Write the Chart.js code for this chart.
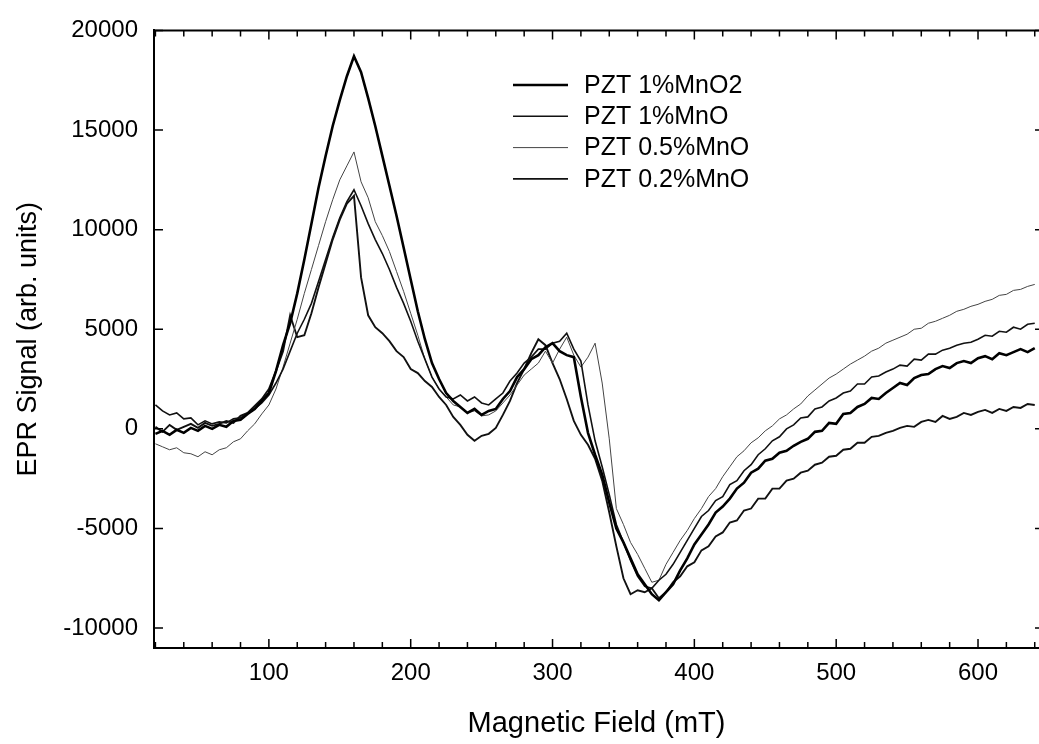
<!DOCTYPE html>
<html>
<head>
<meta charset="utf-8">
<script src="https://cdn.jsdelivr.net/npm/chart.js@4"></script>
<style>
  html, body { margin: 0; padding: 0; background: #fff; }
  canvas { display: block; }
</style>
</head>
<body>
<canvas id="epr-chart" width="1039" height="744"></canvas>
<script>
// magnetic field (mT), shared by all four spectra
const field = [
  20, 25, 30, 35, 40, 45, 50, 55, 60, 65,
  70, 75, 80, 85, 90, 95, 100, 105, 110, 115,
  120, 125, 130, 135, 140, 145, 150, 155, 160, 165,
  170, 175, 180, 185, 190, 195, 200, 205, 210, 215,
  220, 225, 230, 235, 240, 245, 250, 255, 260, 265,
  270, 275, 280, 285, 290, 295, 300, 305, 310, 315,
  320, 325, 330, 335, 340, 345, 350, 355, 360, 365,
  370, 375, 380, 385, 390, 395, 400, 405, 410, 415,
  420, 425, 430, 435, 440, 445, 450, 455, 460, 465,
  470, 475, 480, 485, 490, 495, 500, 505, 510, 515,
  520, 525, 530, 535, 540, 545, 550, 555, 560, 565,
  570, 575, 580, 585, 590, 595, 600, 605, 610, 615,
  620, 625, 630, 635, 640
];

const pzt1MnO2 = [
  -250, -100, -300, -50, -200, 50, -100, 150, 0, 200,
  100, 400, 450, 750, 1000, 1400, 1800, 2900, 4200, 5300,
  6800, 8500, 10300, 12100, 13700, 15200, 16500, 17700, 18700, 17900,
  16600, 15200, 13700, 12200, 10700, 9100, 7500, 5900, 4500, 3300,
  2500, 1800, 1400, 1100, 800, 1000, 700, 900, 1000, 1500,
  1900, 2600, 3000, 3500, 3700, 4100, 4300, 3900, 3700, 3600,
  1600, -200, -1300, -2300, -3700, -5000, -5700, -6500, -7300, -7800,
  -8300, -8600, -8200, -7800, -7100, -6500, -5800, -5300, -4800, -4200,
  -3900, -3500, -3000, -2700, -2200, -2000, -1600, -1500, -1200, -1100,
  -850, -650, -500, -150, -100, 300, 250, 750, 800, 1100,
  1250, 1550, 1500, 1800, 2050, 2300, 2200, 2550, 2700, 2750,
  3000, 3150, 3050, 3300, 3400, 3300, 3550, 3650, 3500, 3800,
  3700, 3850, 4000, 3850, 4050
];

const pzt1MnO = [
  1200, 900, 700, 800, 500, 550, 200, 400, 250, 350,
  300, 500, 550, 800, 1000, 1300, 1700, 2300, 3000, 3900,
  4800, 5500, 6300, 7400, 8500, 9600, 10600, 11400, 12000, 11200,
  10300, 9500, 8800, 8000, 7100, 6300, 5400, 4400, 3500, 2600,
  2000, 1600, 1500, 1700, 1400, 1600, 1300, 1200, 1500, 1800,
  2400, 2800, 3300, 3600, 4000, 4000, 4300, 4400, 4800, 4000,
  3400, 1200, -600, -1900, -3300, -4800, -5700, -6600, -7400, -7900,
  -8000, -7600, -7300, -6800, -6200, -5600, -5000, -4400, -4100, -3600,
  -3400, -2800, -2600, -2100, -1800, -1300, -1000, -600, -400, 0,
  200, 550, 600, 1000, 1100, 1400, 1550, 1800, 1900, 2250,
  2250, 2600, 2650, 2850, 3000, 3200, 3150, 3500, 3450, 3750,
  3750, 3950, 4050, 4200, 4300, 4350, 4500, 4700, 4650, 4900,
  4850, 5100, 5000, 5250, 5300
];

const pzt05MnO = [
  -750, -900, -1050, -950, -1200, -1250, -1400, -1150, -1300, -1050,
  -950, -650, -500, -100, 250, 750, 1200, 2000, 3100, 4300,
  5500, 6800, 8000, 9200, 10400, 11500, 12500, 13200, 13900, 12400,
  11600, 10400, 9700, 8900, 7900, 6900, 5800, 4700, 3500, 2600,
  2000, 1600, 1200, 1100, 800, 900, 650, 700, 900, 1300,
  1700, 2200, 2700, 3000, 3300, 3900, 3300, 4000, 4600, 3700,
  3100, 3600, 4300, 2300, -500, -4000, -4800, -5700, -6300, -7000,
  -7700, -7600, -6800, -6200, -5600, -5100, -4500, -4000, -3400, -3000,
  -2400, -1900, -1400, -1100, -700, -450, -100, 150, 500, 700,
  1000, 1250, 1650, 1950, 2250, 2550, 2750, 3000, 3250, 3450,
  3650, 3900, 4050, 4300, 4450, 4600, 4750, 5000, 5050, 5300,
  5400, 5550, 5700, 5900, 6000, 6150, 6250, 6400, 6500, 6700,
  6750, 6950, 7000, 7150, 7250
];

const pzt02MnO = [
  100, -150, 200, -50, 100, 250, 50, 300, 150, 250,
  400, 300, 650, 800, 1150, 1500, 2000, 2900, 3900, 5700,
  4600, 4700, 5800, 7100, 8300, 9500, 10500, 11300, 11700, 7600,
  5700, 5100, 4800, 4400, 3900, 3600, 3000, 2800, 2400, 2100,
  1600, 1200, 600, 200, -300, -600, -350, -250, 50, 700,
  1400, 2300, 3000, 3800, 4500, 4200, 3300, 2500, 1500, 400,
  -300, -800, -1500, -2600, -4200, -5900, -7500, -8300, -8100, -8200,
  -8000, -8500, -8200, -7700, -7400, -6900, -6700, -6100, -5900, -5400,
  -5200, -4700, -4600, -4100, -4000, -3500, -3500, -3000, -3000, -2600,
  -2500, -2200, -2100, -1800, -1700, -1400, -1350, -1050, -1000, -700,
  -700, -400, -350, -200, -100, 50, 150, 100, 350, 450,
  350, 650, 500, 600, 800, 700, 850, 950, 800, 1000,
  900, 1100, 1050, 1250, 1200
];

const seriesNames = ['PZT 1%MnO2', 'PZT 1%MnO', 'PZT 0.5%MnO', 'PZT 0.2%MnO'];
const xTicks = [100, 200, 300, 400, 500, 600];
const yTicks = [-10000, -5000, 0, 5000, 10000, 15000, 20000];

const FONT = '"Liberation Sans", Arial, Helvetica, sans-serif';
Chart.defaults.font.family = FONT;
Chart.defaults.color = '#000';

const toPoints = ys => field.map((x, i) => ({ x: x, y: ys[i] }));

// inward ticks on all four sides plus the top frame line
const frameTicksPlugin = {
  id: 'frameTicks',
  afterDraw(chart) {
    const { ctx, chartArea: a, scales: { x, y } } = chart;
    ctx.save();
    ctx.strokeStyle = '#000';
    ctx.lineWidth = 2;
    ctx.beginPath();
    ctx.moveTo(a.left - 1, a.top);
    ctx.lineTo(a.right, a.top);
    ctx.stroke();

    ctx.lineWidth = 1.5;
    ctx.beginPath();
    for (let v = 20; v <= x.max; v += 20) {
      const px = x.getPixelForValue(v);
      const len = v % 100 === 0 ? 9 : 6;
      ctx.moveTo(px, a.bottom);
      ctx.lineTo(px, a.bottom - len);
      ctx.moveTo(px, a.top);
      ctx.lineTo(px, a.top + len);
    }
    yTicks.forEach(v => {
      const py = y.getPixelForValue(v);
      ctx.moveTo(a.left, py);
      ctx.lineTo(a.left + 9, py);
      ctx.moveTo(a.right, py);
      ctx.lineTo(a.right - 4, py);
    });
    ctx.stroke();
    ctx.restore();
  }
};

const insideLegendPlugin = {
  id: 'insideLegend',
  afterDraw(chart) {
    const ctx = chart.ctx;
    ctx.save();
    ctx.font = '25px ' + FONT;
    ctx.textBaseline = 'middle';
    ctx.fillStyle = '#000';
    chart.data.datasets.forEach((ds, i) => {
      const yy = 85 + i * 31.3;
      ctx.strokeStyle = ds.borderColor;
      ctx.lineWidth = ds.borderWidth;
      ctx.beginPath();
      ctx.moveTo(513, yy);
      ctx.lineTo(568, yy);
      ctx.stroke();
      ctx.fillText(ds.label, 584, yy + 1);
    });
    ctx.restore();
  }
};

const ctx = document.getElementById('epr-chart').getContext('2d');
const eprChart = new Chart(ctx, {
  type: 'line',
  data: {
    datasets: [
      { label: seriesNames[0], data: toPoints(pzt1MnO2), borderColor: '#000', borderWidth: 2.6 },
      { label: seriesNames[1], data: toPoints(pzt1MnO), borderColor: '#111', borderWidth: 1.6 },
      { label: seriesNames[2], data: toPoints(pzt05MnO), borderColor: '#444', borderWidth: 1 },
      { label: seriesNames[3], data: toPoints(pzt02MnO), borderColor: '#111', borderWidth: 1.9 }
    ]
  },
  options: {
    responsive: false,
    animation: false,
    layout: { padding: { top: 18, right: 0, bottom: 0, left: 0 } },
    elements: {
      point: { radius: 0 },
      line: { tension: 0, fill: false }
    },
    plugins: {
      legend: { display: false },
      tooltip: { enabled: false }
    },
    scales: {
      x: {
        type: 'linear',
        min: 19,
        max: 643,
        afterBuildTicks: s => { s.ticks = xTicks.map(v => ({ value: v })); },
        afterFit: s => { s.height = 96; },
        grid: { display: false, drawTicks: false },
        border: { display: true, color: '#000', width: 2 },
        ticks: { color: '#000', font: { size: 24 }, padding: 11, maxRotation: 0, callback: v => String(v) },
        title: {
          display: true,
          text: 'Magnetic Field (mT)',
          color: '#000',
          font: { size: 29 },
          padding: { top: 0, bottom: 3 }
        }
      },
      y: {
        min: -11000,
        max: 20000,
        afterBuildTicks: s => { s.ticks = yTicks.map(v => ({ value: v })); },
        afterFit: s => { s.width = 154; },
        grid: { display: false, drawTicks: false },
        border: { display: true, color: '#000', width: 2 },
        ticks: { color: '#000', font: { size: 24 }, padding: 16, callback: v => String(v) },
        title: {
          display: true,
          text: 'EPR Signal (arb. units)',
          color: '#000',
          font: { size: 27 },
          padding: { top: 12, bottom: 0 }
        }
      }
    }
  },
  plugins: [frameTicksPlugin, insideLegendPlugin]
});
</script>
</body>
</html>
